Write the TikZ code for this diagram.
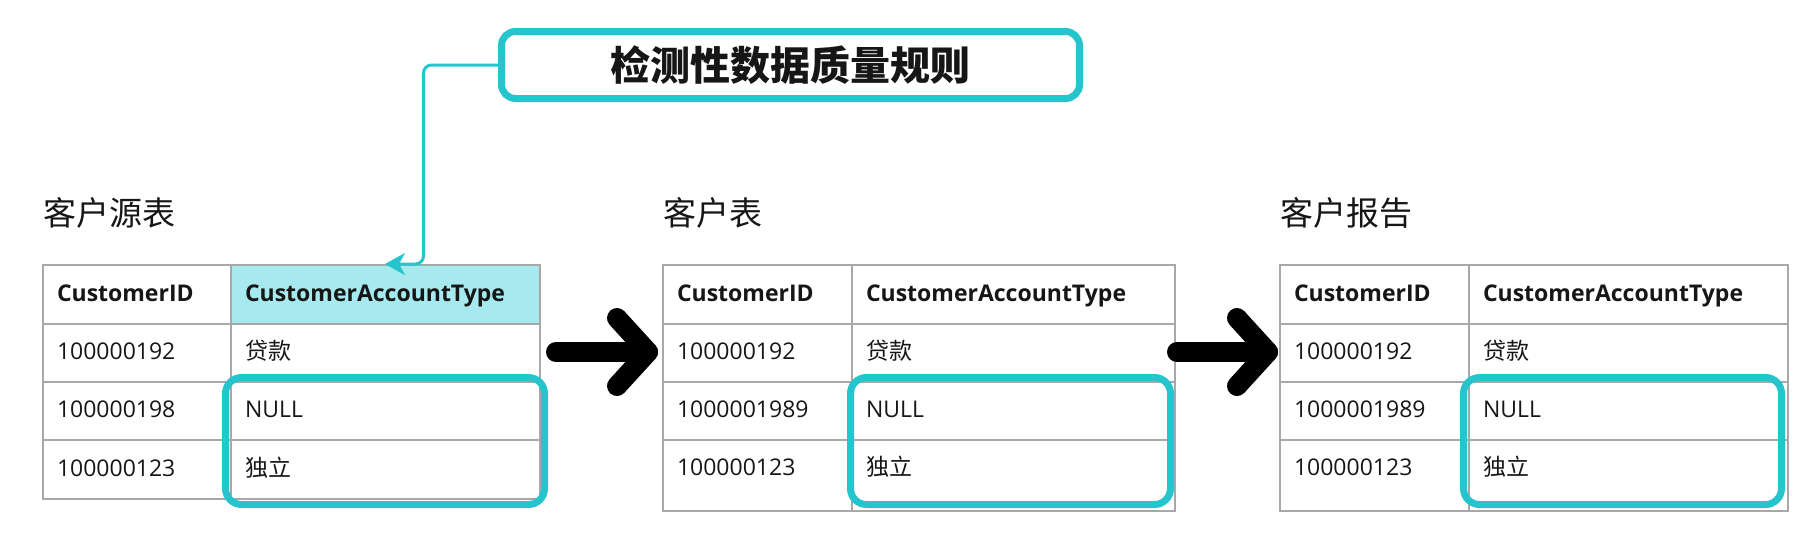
\documentclass[tikz,border=0pt]{standalone}
\usepackage{fontspec}
\setmainfont{Open Sans}
\newfontfamily\cjk{Noto Sans CJK SC}
\usetikzlibrary{arrows.meta,calc}
\definecolor{accent}{RGB}{38,196,204}
\definecolor{headfill}{RGB}{166,233,238}
\definecolor{gridgray}{RGB}{168,168,168}
\definecolor{ink}{RGB}{22,22,22}
% #1 row name, #2 x col1, #3 x col2, #4 inner w col1, #5 inner w col2, #6 y top, #7 extra style, #8 text1, #9 text2
\newcommand\tabrow[9]{%
  \node[cell, text width=#4pt, #7] (#1a) at (#2,#6) {#8};
  \node[cell, text width=#5pt, #7] (#1b) at (#3,#6) {#9};
}
\begin{document}
\begin{tikzpicture}[x=1pt,y=-1pt,
  cell/.style={draw=gridgray, line width=2pt, inner xsep=14pt, inner ysep=0pt,
    anchor=north west, align=left, text=ink, text height=16.5pt, text depth=3pt,
    font={\fontsize{23}{28}\selectfont}},
  hrow/.style={minimum height=59pt, font={\fontsize{23}{28}\selectfont\bfseries}},
  mrow/.style={minimum height=58pt},
  lrow/.style={minimum height=59pt},
  xrow/.style={minimum height=71pt, text depth=16pt},
  ttitle/.style={anchor=base west, inner sep=0pt, text=ink, font={\cjk\fontsize{33}{40}\selectfont}},
  rulebox/.style={draw=accent, line width=7pt, rounded corners=14pt, minimum width=578pt,
    minimum height=67pt, inner sep=0pt, text=ink, font={\cjk\bfseries\fontsize{40}{48}\selectfont}},
  hl/.style={draw=accent, line width=7pt, rounded corners=16pt, inner sep=0pt, minimum height=127pt},
  conn/.style={draw=accent, line width=3pt, rounded corners=8pt, -{Stealth[length=20pt,width=22pt,inset=6pt]}},
  bigarrow/.style={draw=black, line width=20pt, line cap=round, line join=round}
]
\useasboundingbox (0,0) rectangle (1818,536);

% ---------- titles ----------
\node[ttitle] (n1) at (43,225) {客户源表};
\node[ttitle] (n2) at (663,225) {客户表};
\node[ttitle] (n3) at (1280,225) {客户报告};

% ---------- table 1 ----------
\node[cell, text width=160pt, hrow] (t1r0a) at (42,264) {CustomerID};
\node[cell, text width=281pt, hrow, fill=headfill] (t1r0b) at (230,264) {CustomerAccountType};
\tabrow{t1r1}{42}{230}{160}{281}{323}{mrow}{100000192}{{\cjk 贷款}}
\tabrow{t1r2}{42}{230}{160}{281}{381}{mrow}{100000198}{NULL}
\tabrow{t1r3}{42}{230}{160}{281}{439}{lrow}{100000123}{{\cjk 独立}}

% ---------- table 2 ----------
\node[cell, text width=161pt, hrow] (t2r0a) at (662,264) {CustomerID};
\node[cell, text width=295pt, hrow] (t2r0b) at (851,264) {CustomerAccountType};
\tabrow{t2r1}{662}{851}{161}{295}{323}{mrow}{100000192}{{\cjk 贷款}}
\tabrow{t2r2}{662}{851}{161}{295}{381}{mrow}{1000001989}{NULL}
\tabrow{t2r3}{662}{851}{161}{295}{439}{xrow}{100000123}{{\cjk 独立}}

% ---------- table 3 ----------
\node[cell, text width=161pt, hrow] (t3r0a) at (1279,264) {CustomerID};
\node[cell, text width=291pt, hrow] (t3r0b) at (1468,264) {CustomerAccountType};
\tabrow{t3r1}{1279}{1468}{161}{291}{323}{mrow}{100000192}{{\cjk 贷款}}
\tabrow{t3r2}{1279}{1468}{161}{291}{381}{mrow}{1000001989}{NULL}
\tabrow{t3r3}{1279}{1468}{161}{291}{439}{xrow}{100000123}{{\cjk 独立}}

% ---------- highlight boxes ----------
\node[hl, minimum width=319pt] (hl1) at (385,441) {};
\node[hl, minimum width=320pt] (hl2) at (1010.5,441) {};
\node[hl, minimum width=318pt] (hl3) at (1622.5,441) {};

% ---------- rule box and connector ----------
\node[rulebox] (rule) at (790.5,65) {检测性数据质量规则};
\coordinate (tip) at (385,264);
\draw[conn] (rule.west) -- ++(-74.5,0) |- (tip);

% ---------- big arrows ----------
\coordinate (a1s) at (556,352);
\coordinate (a1e) at (648,352);
\coordinate (a2s) at (1177,352);
\coordinate (a2e) at (1268,352);
\draw[bigarrow] (a1s) -- (a1e);
\draw[bigarrow] ($(a1e)+(-31,-34)$) -- (a1e) -- ($(a1e)+(-31,34)$);
\draw[bigarrow] (a2s) -- (a2e);
\draw[bigarrow] ($(a2e)+(-31,-34)$) -- (a2e) -- ($(a2e)+(-31,34)$);
\end{tikzpicture}
\end{document}
